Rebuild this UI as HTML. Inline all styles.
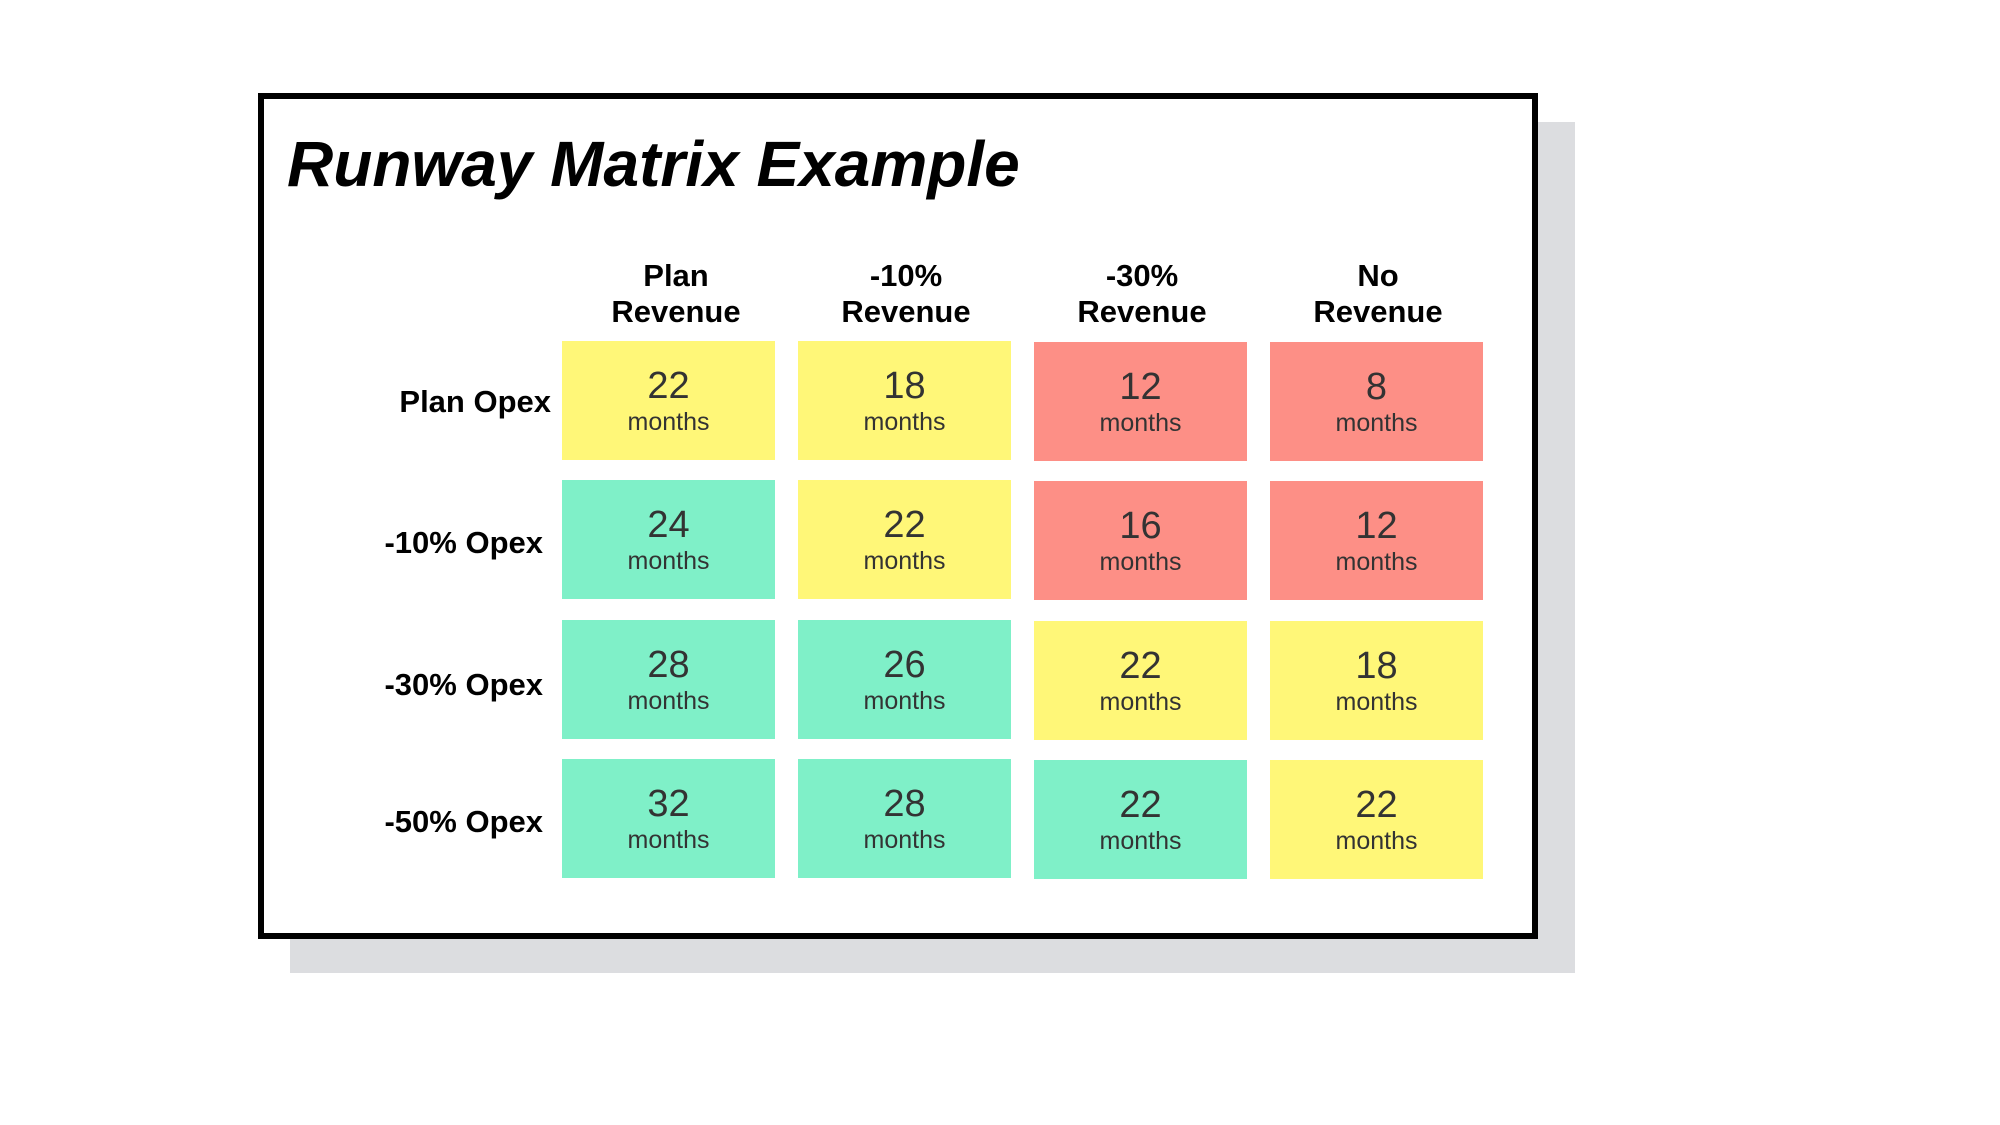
<!DOCTYPE html>
<html><head><style>
body{margin:0;width:2000px;height:1125px;background:#fff;position:relative;overflow:hidden;font-family:"Liberation Sans",Arial,sans-serif}
.abs{position:absolute}
.shadow{left:290px;top:122px;width:1285px;height:851px;background:#dcdde0}
.frame{left:258px;top:93px;width:1268px;height:834px;border:6px solid #000;background:#fff;box-sizing:content-box}
.title{left:287px;top:127px;font-size:64px;font-weight:bold;font-style:italic;color:#000}
.hdr{width:240px;text-align:center;font-weight:bold;font-size:31px;line-height:36px;color:#000;top:258px}
.cell{width:213px;height:119px;text-align:center;color:#333}
.cell .n{position:absolute;left:0;right:0;top:23px;font-size:38px;line-height:44px}
.cell .m{position:absolute;left:0;right:0;top:66px;font-size:25px;line-height:30px}
.y{background:#fff778}.g{background:#7ff0c8}.r{background:#fd8f86}
.lab{font-weight:bold;font-size:31px;line-height:36px;text-align:right;width:300px}
</style></head><body>
<div class="abs shadow"></div>
<div class="abs frame"></div>
<div class="abs title">Runway Matrix Example</div>

<div class="abs hdr" style="left:556px">Plan<br>Revenue</div>
<div class="abs hdr" style="left:786px">-10%<br>Revenue</div>
<div class="abs hdr" style="left:1022px">-30%<br>Revenue</div>
<div class="abs hdr" style="left:1258px">No<br>Revenue</div>

<div class="abs lab" style="top:384px;left:251px">Plan Opex</div>
<div class="abs lab" style="top:525px;left:243px">-10% Opex</div>
<div class="abs lab" style="top:667px;left:243px">-30% Opex</div>
<div class="abs lab" style="top:804px;left:243px">-50% Opex</div>

<div class="abs cell y" style="left:562px;top:341px"><div class="n">22</div><div class="m">months</div></div>
<div class="abs cell y" style="left:798px;top:341px"><div class="n">18</div><div class="m">months</div></div>
<div class="abs cell r" style="left:1034px;top:342px"><div class="n">12</div><div class="m">months</div></div>
<div class="abs cell r" style="left:1270px;top:342px"><div class="n">8</div><div class="m">months</div></div>

<div class="abs cell g" style="left:562px;top:480px"><div class="n">24</div><div class="m">months</div></div>
<div class="abs cell y" style="left:798px;top:480px"><div class="n">22</div><div class="m">months</div></div>
<div class="abs cell r" style="left:1034px;top:481px"><div class="n">16</div><div class="m">months</div></div>
<div class="abs cell r" style="left:1270px;top:481px"><div class="n">12</div><div class="m">months</div></div>

<div class="abs cell g" style="left:562px;top:620px"><div class="n">28</div><div class="m">months</div></div>
<div class="abs cell g" style="left:798px;top:620px"><div class="n">26</div><div class="m">months</div></div>
<div class="abs cell y" style="left:1034px;top:621px"><div class="n">22</div><div class="m">months</div></div>
<div class="abs cell y" style="left:1270px;top:621px"><div class="n">18</div><div class="m">months</div></div>

<div class="abs cell g" style="left:562px;top:759px"><div class="n">32</div><div class="m">months</div></div>
<div class="abs cell g" style="left:798px;top:759px"><div class="n">28</div><div class="m">months</div></div>
<div class="abs cell g" style="left:1034px;top:760px"><div class="n">22</div><div class="m">months</div></div>
<div class="abs cell y" style="left:1270px;top:760px"><div class="n">22</div><div class="m">months</div></div>
</body></html>
